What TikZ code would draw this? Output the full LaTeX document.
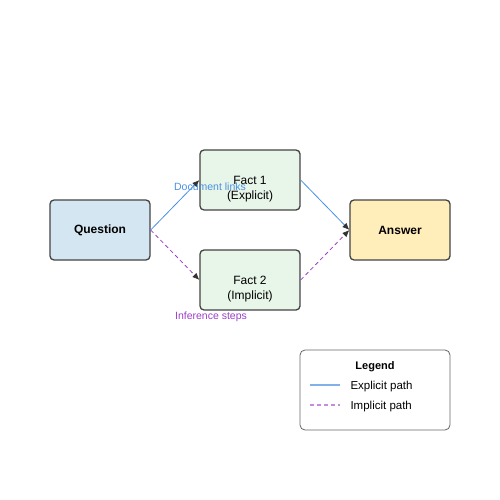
\documentclass[tikz,border=0pt]{standalone}
\usepackage{fontspec}
\setmainfont{Liberation Sans}
\usetikzlibrary{arrows.meta}
\definecolor{qfill}{HTML}{D4E6F1}
\definecolor{ffill}{HTML}{E8F5E9}
\definecolor{afill}{HTML}{FFEEBA}
\definecolor{boxline}{HTML}{444444}
\definecolor{explicitc}{HTML}{4A90E2}
\definecolor{implicitc}{HTML}{9B3FC8}
\begin{document}
\begin{tikzpicture}[x=1pt,y=-1pt,
  stepbox/.style={draw=boxline,line width=1.3pt,rounded corners=4pt,
    minimum width=100pt,minimum height=60pt,align=center,font=\fontsize{12}{15}\selectfont},
  facttext/.style={yshift=-9pt,align=center,font=\fontsize{12}{15}\selectfont},
  explicit/.style={draw=explicitc,line width=0.8pt,-{Latex[length=7pt,width=6pt,color=black!80]}},
  implicit/.style={draw=implicitc,line width=0.8pt,dash pattern=on 4pt off 3pt,
    -{Latex[length=7pt,width=6pt,color=black!80]}},
  tag/.style={font=\fontsize{10.5}{12}\selectfont}
  ]
  \useasboundingbox (0,0) rectangle (500,500);
  \node[stepbox,fill=qfill,font=\bfseries\fontsize{12}{15}\selectfont] (question) at (100,230) {Question};
  \node[stepbox,fill=ffill,label={[facttext]center:Fact 1\\(Explicit)}] (fact1) at (250,180) {};
  \node[stepbox,fill=ffill,label={[facttext]center:Fact 2\\(Implicit)}] (fact2) at (250,280) {};
  \node[stepbox,fill=afill,font=\bfseries\fontsize{12}{15}\selectfont] (answer) at (400,230) {Answer};
  % paths
  \draw[explicit] (question.east) -- (fact1.west);
  \draw[explicit] (fact1.east) -- (answer.west);
  \draw[implicit] (question.east) -- (fact2.west);
  \draw[implicit] (fact2.east) -- (answer.west);
  \node[tag,text=explicitc] (doclinks) at (210,187) {Document links};
  \node[tag,text=implicitc] (infsteps) at (211,317) {Inference steps};
  % legend
  \node[draw=black!60,line width=0.8pt,rounded corners=5pt,fill=white,
    minimum width=150pt,minimum height=80pt] (legend) at (375,390) {};
  \node[font=\bfseries\fontsize{11}{13}\selectfont] (legendtitle) at (375,367) {Legend};
  \coordinate (e1) at (310,385);
  \coordinate (e2) at (340,385);
  \coordinate (i1) at (310,405);
  \coordinate (i2) at (340,405);
  \draw[explicitc!70,line width=1.5pt] (e1) -- (e2);
  \draw[implicitc!60,line width=1.5pt,dash pattern=on 4pt off 3pt] (i1) -- (i2);
  \node[anchor=west,font=\fontsize{11.5}{13}\selectfont] (explabel) at (347,386.5) {Explicit path};
  \node[anchor=west,font=\fontsize{11.5}{13}\selectfont] (implabel) at (347,406.5) {Implicit path};
\end{tikzpicture}
\end{document}
